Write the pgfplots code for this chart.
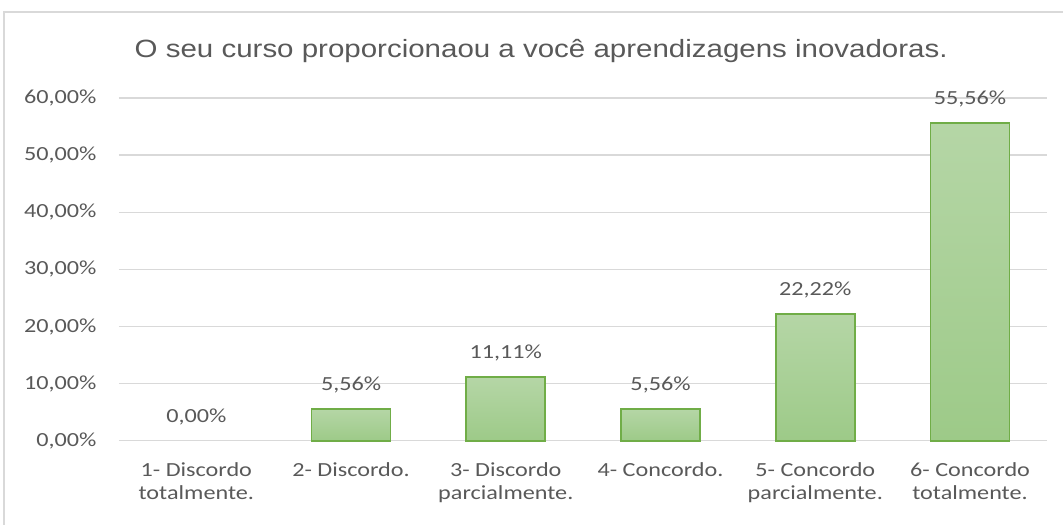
\documentclass[border=0pt]{standalone}
\usepackage{fontspec}
\setmainfont[FakeStretch=1.21]{Carlito}
\newfontfamily\titlefont[FakeStretch=1.18]{Liberation Sans}
\usepackage{pgfplots}
\pgfplotsset{compat=1.18}
\definecolor{txtgray}{HTML}{595959}
\definecolor{gridgray}{HTML}{D9D9D9}
\definecolor{bartop}{HTML}{B5D6A6}
\definecolor{barbot}{HTML}{9DCA88}
\definecolor{baredge}{HTML}{70AD47}
\begin{document}
\begin{tikzpicture}
\begin{axis}[
  scale only axis,
  width=929bp, height=343bp,
  xmin=-0.5, xmax=5.5,
  ymin=0, ymax=60,
  ytick={0,10,20,30,40,50,60},
  yticklabels={{0,00\%},{10,00\%},{20,00\%},{30,00\%},{40,00\%},{50,00\%},{60,00\%}},
  xtick={0,1,2,3,4,5},
  xticklabels={{1- Discordo\\totalmente.},{2- Discordo.},{3- Discordo\\parcialmente.},{4- Concordo.},{5- Concordo\\parcialmente.},{6- Concordo\\totalmente.}},
  xticklabel style={align=center, font=\fontsize{20bp}{23.5bp}\selectfont, text=txtgray, anchor=north, yshift=-18bp},
  yticklabel style={font=\fontsize{20bp}{24bp}\selectfont, text=txtgray, xshift=-19bp},
  axis line style={draw=none},
  tick style={draw=none},
  ymajorgrids,
  major grid style={gridgray, line width=1.3bp},
  nodes near coords,
  point meta=explicit symbolic,
  nodes near coords style={font=\fontsize{20bp}{24bp}\selectfont, text=txtgray, anchor=south, yshift=12bp},
  clip=false,
  barstyle/.style={ybar, bar shift=0pt, bar width=79bp, draw=baredge, line width=1.8bp, top color=bartop, bottom color=barbot},
]
\addplot[ybar, bar shift=0pt, bar width=79bp, draw=none, fill=none]
  coordinates {(0,0)[0,00\%]};
\addplot[barstyle] coordinates {(1,5.56)[5,56\%]};
\addplot[barstyle] coordinates {(2,11.11)[11,11\%]};
\addplot[barstyle] coordinates {(3,5.56)[5,56\%]};
\addplot[barstyle] coordinates {(4,22.22)[22,22\%]};
\addplot[barstyle] coordinates {(5,55.56)[55,56\%]};
\end{axis}
\node[font=\titlefont\fontsize{25bp}{30bp}\selectfont, text=txtgray] at ([xshift=422.5bp,yshift=390bp]current axis.south west) {O seu curso proporcionaou a você aprendizagens inovadoras.};
\draw[gridgray, line width=1.2bp] ([xshift=-115bp,yshift=-84bp]current axis.south west) -- ([xshift=-115bp,yshift=429bp]current axis.south west) -- ([xshift=945bp,yshift=429bp]current axis.south west);
\useasboundingbox ([xshift=-119bp,yshift=-84bp]current axis.south west) rectangle ([xshift=945bp,yshift=441bp]current axis.south west);
\end{tikzpicture}
\end{document}
